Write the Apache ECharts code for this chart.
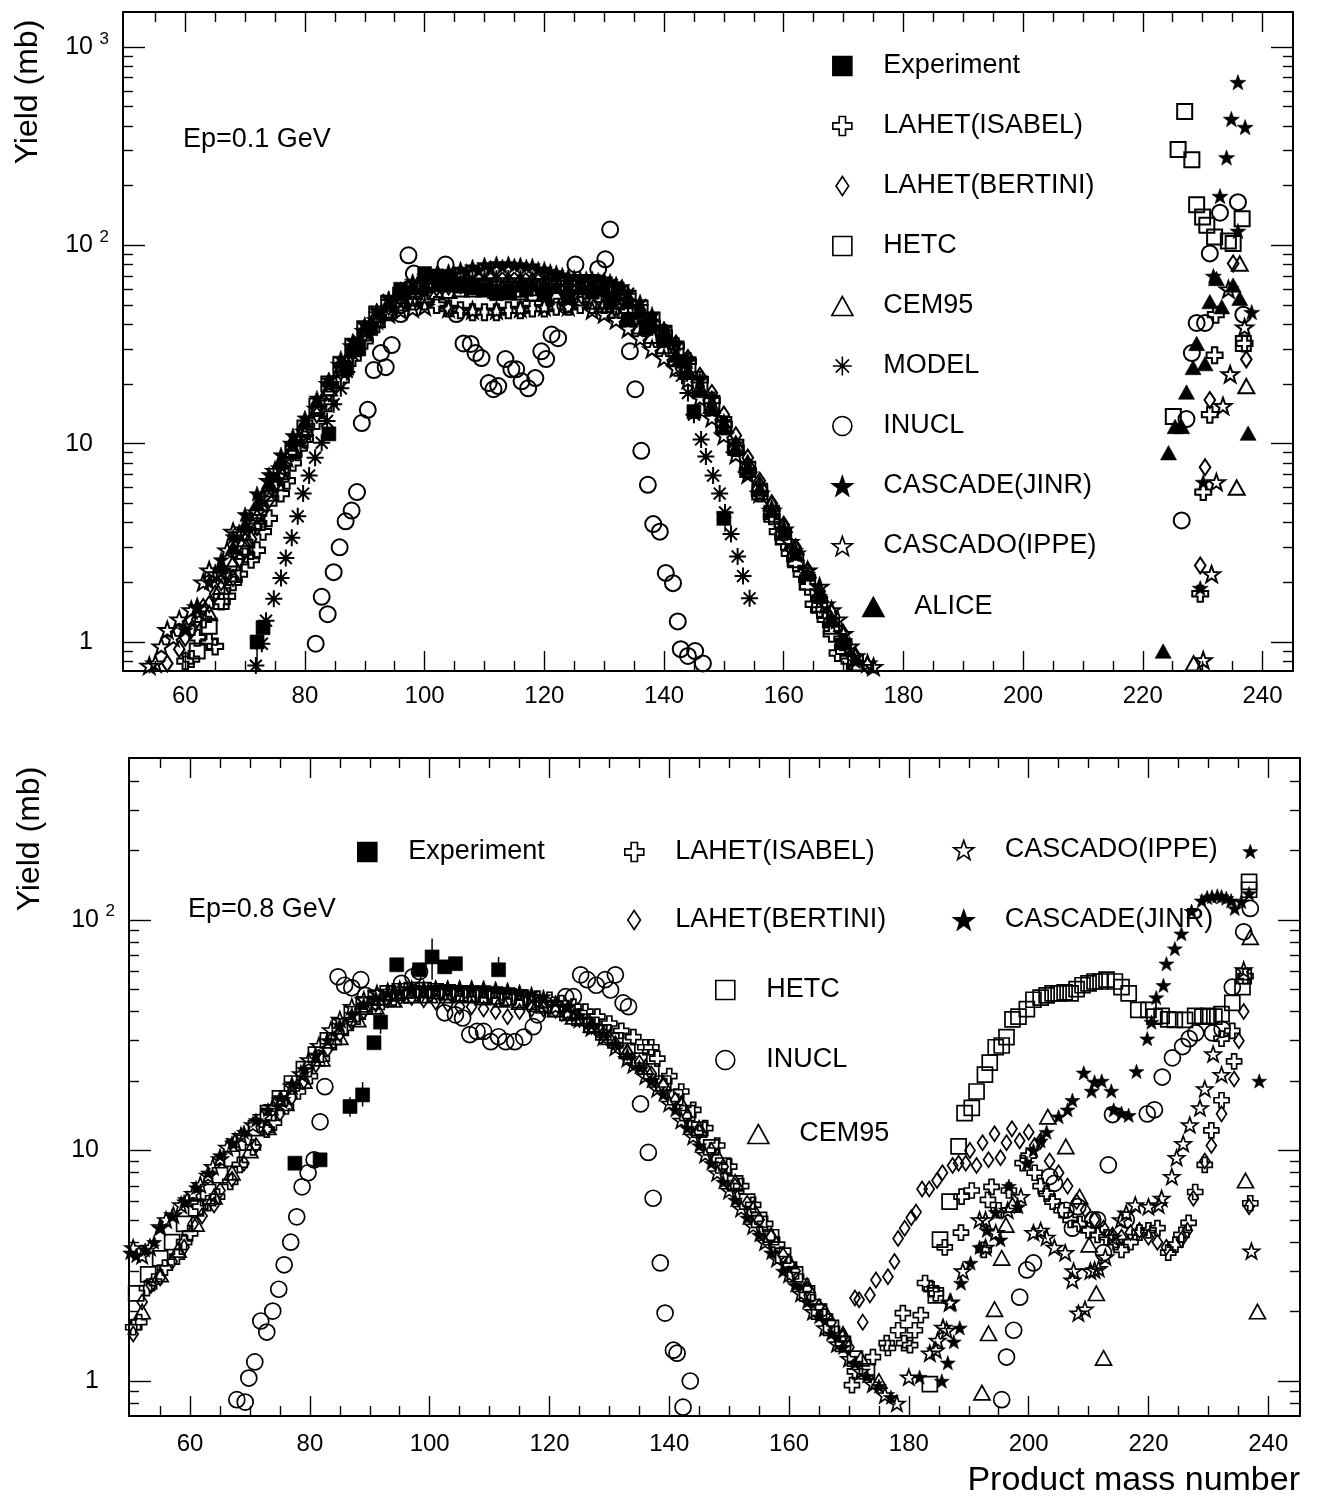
<!DOCTYPE html>
<html>
<head>
<meta charset="utf-8">
<title>Product yields, Ep=0.1 and 0.8 GeV</title>
<script src="https://cdn.jsdelivr.net/npm/echarts@6/dist/echarts.min.js"></script>
<style>
html, body { margin: 0; padding: 0; background: #fff; }
#chart { width: 1319px; height: 1499px; }
</style>
</head>
<body>
<div id="chart"></div>
<script>
// ---------- tick values ----------
const X_MAJOR = [60, 80, 100, 120, 140, 160, 180, 200, 220, 240];
const X_MINOR = [55, 65, 70, 75, 85, 90, 95, 105, 110, 115, 125, 130, 135, 145, 150, 155,
                 165, 170, 175, 185, 190, 195, 205, 210, 215, 225, 230, 235];
const Y_MAJOR_TOP = [1, 10, 100, 1000];
const Y_MINOR_TOP = [0.8, 0.9, 2, 3, 4, 5, 6, 7, 8, 9, 20, 30, 40, 50, 60, 70, 80, 90,
                     200, 300, 400, 500, 600, 700, 800, 900];
const Y_MAJOR_BOT = [1, 10, 100];
const Y_MINOR_BOT = [0.8, 0.9, 2, 3, 4, 5, 6, 7, 8, 9, 20, 30, 40, 50, 60, 70, 80, 90, 200, 300, 400];

// ---------- Ep = 0.1 GeV : [mass number, yield (mb)] ----------
const topExperiment = [[72,1.0],[73,1.18],[84,11.2],[87,24],[89,30],[91,38],[96,60],[100,72],[102,70],[104,66],[106,64],
  [108,62],[110,60],[112,57],[114,58],[117,60],[120,57],[124,55],[128,58],[131,52],[134,42],[137,38],[140,33],[143,26],
  [145,14.5],[150,4.2]];
// error bars: [mass number, low, high]
const topExpErr = [[72,0.714,1.0],[150.2,3.6,4.9]];
const topIsabel = [[60,0.8],[61,0.82],[62,1.05],[63,1.3],[64,1.0],[65,0.95],[66,1.6],[67,1.7],[68,2.0],[69,2.2],[70,2.7],
  [71,2.6],[72,2.9],[73,3.6],[74,4.2],[75,6.0],[76,5.6],[77,6.5],[78,8],[79,9.5],[80,10.5],[82,13],[84,16],[86,21],[88,27],
  [90,33],[92,40],[94,46],[96,50],[98,52],[100,52],[102,50],[104,48],[106,47],[108,46],[110,46],[112,46],[114,47],[116,47],
  [118,48],[120,48],[122,49],[124,49],[126,50],[128,50],[130,50],[132,49],[134,47],[136,44],[138,40],[140,36],[142,31],
  [144,26],[146,21],[148,16.5],[150,12.5],[152,9.5],[154,7.3],[156,5.6],[158,4.3],[159,3.6],[160,3.2],[161,2.8],[162,2.5],
  [163,2.2],[164,1.9],[165,1.55],[166,1.45],[167,1.3],[168,1.1],[169,0.88],[170,1.0],[171,0.8],
  [229.6,1.75],[230.1,5.7],[231.2,14],[232,27.9],[232.2,44.7],[237,32]];
const topBertini = [[57,0.78],[59,0.92],[60,1.05],[61,1.15],[62,1.3],[63,1.5],[64,1.55],[65,1.75],[66,2.0],[67,2.15],
  [68,2.1],[69,2.6],[70,2.9],[71,3.3],[72,3.8],[73,4.6],[74,5.2],[75,6.2],[76,7.0],[78,9],[80,11],[82,14],[84,18],[86,23],
  [88,29],[90,36],[92,43],[94,49],[96,54],[98,58],[100,60],[102,61],[104,62],[106,63],[108,64],[110,65],[112,66],[114,66],
  [116,66],[118,66],[120,65],[122,64],[124,63],[126,63],[128,62],[130,60],[132,56],[134,52],[136,47],[138,42],[140,37],
  [142,32],[144,27],[146,22],[148,18],[150,14],[152,11],[154,8.5],[156,6.5],[158,5],[160,3.9],[162,3.0],[164,2.3],[166,1.8],
  [168,1.4],[170,1.1],[172,0.85],[174,0.76],
  [229.6,2.43],[230.4,7.6],[231.2,16.6],[235.1,81],[237.3,26.6]];
const topHetc = [[62,0.9],[64,1.2],[66,1.6],[68,2.2],[70,3],[72,4],[74,5.3],[76,7],[78,9.2],[80,12],[82,15.5],[84,20],
  [86,25],[88,31],[90,38],[92,45],[94,51],[96,56],[98,60],[100,63],[102,64],[104,64],[106,63],[108,62],[110,61],[112,60],
  [114,60],[116,60],[118,61],[120,62],[122,63],[124,64],[126,65],[128,65],[130,63],[132,59],[134,54],[136,48],[138,42],
  [140,36],[142,30],[144,25],[146,20],[148,16],[150,12.5],[152,9.6],[154,7.4],[156,5.7],[158,4.4],[160,3.4],[162,2.6],
  [164,2.0],[166,1.55],[168,1.2],[170,0.95],[172,0.78],
  [225.1,13.7],[225.9,304],[227,472],[228.2,270],[229,160],[230,139],[230.7,126],[232,110],[234.3,105],[235.1,102],
  [236.6,136],[236.8,32]];
const topCem95 = [[64,1.4],[66,1.9],[68,2.5],[70,3.3],[72,4.3],[74,5.6],[76,7.2],[78,9.3],[80,12],[82,15],[84,19],[86,24],
  [88,30],[90,36],[92,42],[94,47],[96,51],[98,54],[100,56],[102,58],[104,59],[106,60],[108,60],[110,60],[112,59],[114,58],
  [116,58],[118,57],[120,57],[122,56],[124,55],[126,54],[128,52],[130,50],[132,47],[134,43],[136,39],[138,35],[140,31],
  [142,27],[144,23],[146,19],[148,15.5],[150,12.5],[152,10],[154,8],[156,6.3],[158,5],[160,3.9],[162,3.0],[164,2.3],
  [166,1.75],[168,1.3],[170,1.0],[172,0.78],
  [228.5,0.78],[235.7,6.0],[236.2,81],[237.3,19.5]];
const topModel = [[71.8,0.76],[72.8,0.98],[73.5,1.28],[74.8,1.65],[76,2.1],[76.8,2.65],[77.8,3.35],[78.8,4.3],[79.7,5.6],
  [80.7,6.9],[81.7,8.5],[82.8,10.1],[83.7,13],[84.8,15.8],[86,19],[87,23],[88,28],[89,33],[90,38],[92,46],[94,53],[96,58],
  [98,62],[100,64],[102,65],[104,66],[106,66],[108,67],[110,68],[112,68],[114,68],[116,68],[118,67],[120,67],[122,66],
  [124,66],[126,66],[128,66],[130,65],[132,62],[134,57],[136,50],[138,42],[140,34],[142,26],[143,22],[144,18],[145,14],
  [146.2,10.5],[147,8.6],[148.2,6.9],[149.3,5.6],[150.2,4.5],[151.2,3.5],[152.3,2.7],[153.2,2.15],[154.3,1.66]];
const topInucl = [[81.8,0.98],[82.8,1.69],[83.8,1.38],[84.8,2.25],[85.8,3.0],[86.8,4.06],[87.8,4.6],[88.7,5.7],[89.5,12.7],
  [90.5,14.8],[91.5,23.5],[92.7,28.6],[93.5,24.3],[94.5,31.4],[96,45],[97.3,89],[98.2,72],[100,62],[103.5,80],[105.3,45],
  [106.5,32],[107.7,31.8],[108.5,28.6],[109.5,27],[110.7,20.2],[111.5,18.8],[112.3,19.5],[113.5,26.7],[114.5,23.7],
  [115.3,23.7],[116.2,20.6],[117.3,19.0],[118.5,21.4],[119.5,29.2],[120.3,26.7],[121.2,35.5],[122.3,34],[123.5,50],
  [125.2,80],[127,55],[129,76],[130.2,85],[131,120],[132.5,52],[134.3,29.2],[135.2,18.8],[136.2,9.2],[137.3,6.2],
  [138.2,3.93],[139.3,3.6],[140.3,2.23],[141.5,1.98],[142.3,1.27],[142.8,0.92],[144,0.85],[145.2,0.9],[146.5,0.78],
  [226.5,4.1],[227.3,13.3],[228.2,28.6],[229,40.6],[230.4,40.6],[231.2,91],[232.9,146],[235.9,165],[236.8,44.7]];
const topJinr = [[60,1.15],[62,1.5],[64,2.0],[66,2.6],[68,3.4],[70,4.4],[72,5.6],[74,7],[76,8.8],[78,11],[80,13.5],[82,17],
  [84,21],[86,27],[88,33],[90,40],[92,47],[94,54],[96,60],[98,66],[100,70],[101,68],[102,72],[103,70],[104,74],[105,72],
  [106,76],[107,74],[108,78],[109,75],[110,80],[111,77],[112,81],[113,78],[114,81],[115,79],[116,80],[117,78],[118,79],
  [119,76],[120,76],[121,74],[122,73],[123,71],[124,70],[125,69],[126,68],[127,68],[128,68],[129,67],[130,67],[131,66],
  [132,64],[133,62],[134,58],[136,52],[138,45],[140,38],[142,32],[144,26],[146,21],[148,17],[150,13],[152,10],[154,8],
  [156,6.2],[158,4.8],[160,3.7],[162,2.9],[164,2.2],[166,1.7],[168,1.3],[170,1.0],[172,0.8],
  [229.6,1.87],[230.1,6.4],[231.8,70],[232.9,177],[234,277],[234.8,433],[235.9,664],[235.9,118],[237.1,394],[238.2,46]];
const topIppe = [[54,0.76],[55,0.78],[56,0.95],[57,1.15],[58,1.05],[59,1.3],[60,1.2],[61,1.45],[62,1.5],[63,2.0],[64,2.3],
  [65,2.2],[66,2.3],[67,2.9],[68,3.6],[69,3.5],[70,3.7],[71,4.0],[72,4.5],[73,5.3],[74,6.5],[75,7.3],[76,7.5],[77,8.5],
  [78,10],[79,10.5],[80,11.5],[82,15],[84,20],[86,25],[88,31],[90,37],[92,42],[94,45],[96,47],[98,48],[100,49],[104,48],
  [108,47],[112,47],[116,48],[120,49],[124,49],[128,47],[130,45],[132,42],[134,38],[136,34],[138,30],[140,27],[142,24],
  [144,21],[146,17],[148,13.5],[150,11],[152,8.8],[154,7],[156,5.6],[158,4.6],[160,3.7],[161,3.2],[162,2.8],[164,2.3],
  [166,1.9],[167,1.55],[168,1.45],[169,1.3],[170,1.1],[171,0.95],[172,0.85],[174,0.78],[175,0.75],
  [230.1,0.81],[231.5,2.2],[232.3,6.4],[233.4,15.5],[234.3,60],[234.6,22.4],[237,38.6]];
const topAlice = [[66,2.4],[68,3.0],[70,3.9],[72,5],[74,6.4],[76,8.2],[78,10.5],[80,13],[82,16.5],[84,21],[86,26],[88,32],
  [90,39],[92,46],[94,52],[96,57],[98,61],[100,63],[102,64],[104,64],[106,63],[108,62],[110,61],[112,61],[114,62],[116,63],
  [118,64],[120,63],[122,62],[124,61],[126,61],[128,61],[130,60],[132,57],[134,52],[136,46],[138,40],[140,34],[142,28],
  [144,23],[146,18.5],[148,15],[150,12],[152,9.5],[154,7.5],[156,5.9],[158,4.6],[160,3.6],[162,2.8],[164,2.2],[166,1.7],
  [168,1.3],[170,1.0],
  [223.4,0.9],[224.3,9.0],[225.4,12.2],[226.5,12.2],[227.3,18.2],[228.4,24.2],[229,32],[230.4,25.3],[231.2,52],[232.3,68],
  [233.2,49],[235.1,63],[236.2,54],[237.6,11.3]];

// ---------- Ep = 0.8 GeV : [mass number, yield (mb)] ----------
const botExperiment = [[77.5,8.8],[81.7,9.1],[86.7,15.5],[88.8,17.4],[90.7,29.3],[91.8,36],[94.5,63.8],[98.3,60.7],
  [100.4,69],[102.5,62.5],[104.3,64.5],[111.5,60.7]];
const botExpErr = [[100.4,55,83],[111.5,57,69],[88.8,15.5,19.8],[91.8,32,40],[86.7,14,17]];
const botIsabel = [[50.5,1.71],[51.5,1.8],[52.8,2.53],[54,2.7],[55.8,3.1],[57.8,3.46],[59,4.0],[60,4.37],[61.7,5.7],[63,5.9],
  [64.5,6.3],[66.7,7.3],[68.3,8.65],[70.5,10.3],[72.8,12.3],[74,13.2],[76,15.5],[78,18],[80,21],[82,25],[84,29.5],[86,34],
  [88,38],[90,42],[92,44],[94,46],[96,47],[98,48],[100,48],[102,48.5],[104,48],[106,48],[108,47.5],[110,47],[112,47],
  [114,46.5],[116,46],[118,45.5],[120,45],[122,43.5],[124,42],[126,40],[128,38],[130,35.5],[132,33],[134,31],[136,28],
  [137,28],[138,25],[140,21],[142,18],[144,15],[146,12.5],[148,10.5],[150,8.5],[152,7],[154,5.8],[156,4.8],[158,3.9],
  [160,3.2],[162,2.7],[164,2.2],[166,1.9],[168,1.6],[169,1.45],[170.5,0.96],[171,1.1],
  [174,1.27],[176.3,1.46],[176.5,1.39],[178.2,1.66],[179,1.97],[179.2,1.46],[180.2,1.43],[181,1.66],[182,1.93],[182.7,2.66],
  [183.8,2.5],[184.5,2.4],[186,3.8],[188.7,4.4],[188.8,6.3],[190.5,6.7],[192.5,3.7],[193.2,6.1],[193.8,6.95],[195,5.5],
  [196.7,6.7],[199,8.8],[200,9.5],[201,8],[202,7],[203,6.5],[204,6.0],[205.5,5.5],[207,5],[208.5,4.8],[210,4.5],
  [211.5,4.3],[213,4.2],[214.5,4.0],[215.5,3.7],[217,4.0],[218.5,4.4],[220,4.5],[221.5,4.6],[223.3,3.6],[224.5,3.9],
  [225.5,4.3],[226.7,4.85],[227.8,6.6],[229.4,8.65],[230.5,12.2],[232.2,16.5],[232.2,30.5],[234,33],[234.3,24.3],
  [236.2,57],[237,5.9]];
const botBertini = [[50.5,1.6],[52,2.2],[53.5,2.6],[55,2.8],[57,3.3],[59,3.8],[60.5,4.8],[62,5.2],[64,5.8],[65,6.7],[67,7.5],
  [69,8.8],[71,10.5],[73,12.5],[75,14.5],[77,17],[79,20],[81,23.5],[83,27.5],[85,32],[87,36],[89,40],[91,43],[93,45],
  [95,46],[97,46],[99,45],[101,44],[103,43],[105,42],[107,42],[109,41],[111,40],[113,38],[115,40],[117,41],[119,41],
  [121,40.5],[123,39],[125,37],[127,34.5],[129,32],[131,29],[133,26.5],[135,24],[137,21.5],[139,19],[141,16.5],[143,14],
  [145,12],[147,10],[149,8.5],[151,7],[153,5.9],[155,5.0],[157,4.2],[159,3.5],[161,3.0],[163,2.5],[165,2.1],[167,1.8],
  [169,1.55],[170,1.4],
  [171,2.29],[171.7,2.25],[172.3,1.8],[173.5,2.36],[174.5,2.74],[176.5,2.83],[177.6,3.3],[178.2,4.15],[179.3,4.6],
  [180.4,5.1],[181.2,5.4],[182.2,6.8],[183.4,6.8],[184.7,7.4],[185.6,8.0],[187.3,8.6],[188.3,8.8],[189.5,8.8],[190.2,10],
  [191.3,8.6],[192.3,10.8],[193.3,9.1],[194.3,11.8],[195.3,9.3],[196.3,10.8],[197.2,12.4],[198.5,11],[200,12],[201,10.5],
  [202,11],[203.5,9],[205,8],[206.5,7],[208,6],[209.5,5.5],[211,5],[212.5,4.6],[214,4.3],[215.5,4.2],[217,4.4],
  [218.5,4.5],[220,4.2],[221.5,4.0],[223,3.8],[225.5,4.1],[226.5,4.5],[227.5,6.2],[229.4,9.0],[230.5,10.5],[232.2,14.4],
  [234.3,20.4],[235.1,29.9],[235.9,40],[236.8,5.7]];
const botHetc = [[51,2.4],[53,2.9],[55,3.4],[57,4.0],[59,4.8],[61,5.6],[63,6.6],[65,7.8],[67,9.2],[69,10.8],[71,12.5],
  [73,14.5],[75,16.8],[77,19.5],[79,22.5],[81,26],[83,30],[85,34.5],[87,39],[89,43],[91,46],[93,48],[95,49],[97,49.5],
  [99,49.5],[101,49],[103,48.5],[105,48],[107,47.5],[109,47],[111,46.5],[113,46],[115,45],[117,44],[119,42.5],[121,41],
  [123,39.5],[125,37.5],[127,35],[129,32.5],[131,30],[133,27],[135,24.5],[137,22],[139,19.5],[141,17],[143,14.5],
  [145,12.3],[147,10.3],[149,8.6],[151,7.2],[153,6.0],[155,5.0],[157,4.2],[159,3.5],[161,2.9],[163,2.4],[165,2.0],
  [167,1.7],[169,1.45],[171,1.25],[173,1.1],
  [183.5,0.97],[184.5,2.35],[185.2,4.1],[186.8,6.0],[188.3,10.4],[189.3,14.5],[190.5,15.3],[191.3,18],[192.7,21.3],
  [193.5,24],[194.5,28],[195.5,28.5],[196.3,31],[197.3,37],[198.3,38],[199.7,41],[200.8,45],[202,46],[203,47],[204,48],
  [205,48],[206,48.5],[207,48],[208,50],[209,52],[210,53],[211,54],[212,54],[213,55],[214.4,54],[215.5,51],[216.7,48],
  [218.3,40.7],[220,40.7],[221,38],[222.2,38.3],[223.3,37],[224.4,36.8],[226.1,36.8],[227.8,38.3],[229,38],[230,38.3],
  [231,38],[232.2,39],[234,43.6],[235.7,51],[235.9,57],[236.8,135],[236.8,146]];
const botCem95 = [[52,2.0],[55,2.9],[58,3.7],[61,4.8],[64,6.3],[67,8],[70,10],[73,12.6],[76,16],[79,20],[82,25],[85,31],
  [88,37],[91,42],[94,45],[97,47],[100,47],[103,47],[106,47],[109,46],[112,45],[115,44],[118,43],[121,41],[124,38],
  [127,35],[130,31],[133,27],[136,23],[139,19.5],[142,16],[145,12.5],[148,9.5],[151,7.3],[154,5.6],[157,4.3],[160,3.3],
  [163,2.6],[166,2.0],[169,1.6],[172,1.25],[175,1.0],
  [192.2,0.89],[193.3,1.61],[194.3,2.05],[195.5,3.42],[196.2,4.75],[197.3,5.8],[203.2,14],[206.2,10.4],[208.5,6.3],
  [210.1,3.9],[211.3,2.4],[212.5,1.26],[236.2,7.4],[237,84],[238.2,2.0]];
const botInucl = [[67.8,0.83],[69.2,0.81],[69.8,1.03],[70.8,1.21],[71.8,1.82],[72.8,1.63],[73.8,2.01],[74.8,2.5],[75.7,3.19],
  [76.8,4.0],[77.8,5.15],[78.7,6.95],[79.7,8.0],[80.7,9.1],[81.7,13.3],[82.5,18.9],[84.7,56.6],[85.8,52],[87,50.7],
  [88.5,55],[89.3,47],[95.3,53],[97.2,56.6],[98.3,59.6],[102.5,39.5],[104.3,38.7],[105.5,37.5],[106.7,31.8],[107.9,32.8],
  [109,32.8],[110.2,29.6],[111.5,31.1],[112.7,29.6],[114.2,29.6],[115.7,31],[117.3,34.4],[118,38.7],[122.7,46.4],
  [124,46.4],[125.2,57.7],[126.3,55],[127.8,52],[129.3,55],[130.2,49.6],[131,57.7],[132.3,43.6],[133.2,42],[135.2,15.9],
  [136.5,9.8],[137.3,6.2],[138.5,3.25],[139.3,1.97],[140.7,1.36],[141.3,1.32],[142.3,0.77],[143.5,1.0],
  [195.5,0.83],[196.3,1.27],[197.5,1.66],[198.5,2.31],[199.7,3.03],[200.8,3.25],[203.5,7.7],[204.3,7.2],[206.2,5.5],
  [207.3,4.6],[208.2,5.7],[210.7,5.0],[211.5,5.0],[212.5,3.6],[213.3,8.65],[214,14.3],[216.3,5.0],[219.8,14.4],[221,15],
  [222.3,20.8],[224,25.2],[225.7,28.2],[226.8,30.5],[227.9,32.3],[230.7,32.3],[232.3,33.5],[234,51],[235.9,88.7],[237,112]];
const botJinr = [[50,3.6],[51,3.5],[52.5,3.7],[54,4.0],[55,4.6],[57,5.2],[59,6.0],[61,6.9],[63,8.0],[65,9.5],[67,10.8],
  [69,12],[71,13.5],[73,15],[75,17],[77,19.5],[79,22.5],[81,26],[83,30],[85,35],[87,39],[89,43],[91,46],[93,48],[95,49],
  [97,50],[99,50.5],[101,51],[103,51],[105,51],[107,51],[109,51],[111,50.5],[113,50],[115,49],[117,48],[119,46.5],[121,44],
  [123,41.5],[125,38.5],[127,35],[129,32],[131,29],[133,26],[135,23],[137,20],[139,17.5],[141,15],[143,12.5],[145,10.5],
  [147,8.8],[149,7.3],[151,6.1],[153,5.1],[155,4.3],[157,3.6],[159,3.0],[161,2.6],[163,2.2],[165,1.9],[167,1.6],[169,1.4],
  [171,1.2],[173,1.05],[175,0.95],[177,0.85],
  [181.8,1.04],[185.5,1.0],[186.5,1.2],[187.5,1.48],[188.5,1.7],[188.7,2.66],[190.3,3.25],[191.8,3.8],[193,4.5],[194.5,5.4],
  [195.3,4.1],[196.7,7.0],[198.3,5.7],[199.7,8.8],[200.8,10],[202,11],[203,12],[205,14],[206.5,15],[207.3,16.5],
  [209.2,21.7],[210.5,18.1],[211,19.8],[212.2,20],[213.8,18.1],[214.2,15],[215.5,14.5],[216.7,14.2],[218,22],[219.8,30.5],
  [220.5,36],[221.3,46],[222.5,52],[223,64.5],[224.4,75],[225.5,87],[227.2,109],[228.9,121],[229.8,125],[230.6,126],
  [231.5,127],[232.2,126],[233,124],[233.8,121],[234.4,112],[235.5,120],[236.8,130],[237,198],[238.5,20]];
const botIppe = [[50.5,3.78],[52,3.5],[53.3,3.8],[55,4.66],[56,5.0],[57.2,5.25],[58.5,5.8],[59.5,6.1],[60.5,6.5],[61.7,7.1],
  [63,7.8],[63.8,8.5],[65,9.2],[66.2,10.3],[67.5,11],[68.5,11.6],[70.5,12.9],[72,14],[73.8,15.5],[75.2,16.6],[77,19],
  [78.5,21.5],[79.8,24.7],[81.5,28.5],[83.5,33.3],[85,37],[87,42],[89,45],[91.2,48],[93,49],[95,50],[97,50],[99,50],
  [101,50],[103,50],[105,50],[107,50],[109,49.5],[111,49],[113,48.5],[115,47.5],[117,46],[119,44],[121,42],[123,39.5],
  [125,37],[127,34],[129,31],[131,28],[133,25],[134,23.5],[136,21],[138,18.5],[140,16],[142,13.5],[144,11.5],[146,9.6],
  [148,8],[150,6.7],[152,5.6],[154,4.7],[156,4.0],[158,3.4],[160,2.9],[162,2.4],[164,2.0],[166,1.7],[168,1.45],[170,1.25],
  [172,1.1],[174,0.97],[176,0.87],[178,0.8],
  [180,1.04],[183.5,1.32],[184.5,1.36],[184.8,1.5],[185.7,1.71],[186.3,1.66],[186.8,2.18],[187,2.2],[189,3.0],[191.8,5.0],
  [192.8,5.0],[192.8,3.8],[194.5,4.4],[196.5,5.5],[198.7,6.3],[200.8,4.4],[202,4.5],[203,4.2],[204.3,3.8],[206.1,3.6],
  [207.3,2.74],[207.5,3.0],[208.3,1.97],[209.4,2.05],[210.3,3.0],[211,3.03],[211.7,3.07],[212.8,3.45],[214,4.2],
  [215.4,5.0],[216.3,5.35],[217.8,5.8],[220,5.7],[221.7,5.8],[222.2,6.2],[223.9,7.7],[224.7,9.3],[225.8,10.7],[226.9,12.9],
  [228.6,15.3],[229.4,18.5],[230.8,26.2],[232.2,21.3],[235.9,60.7],[237.2,3.66]];

// ---------- chart ----------
const FONT = "'Liberation Sans', Arial, Helvetica, sans-serif";
const SYM = {
  square: 'path://M-1,-1H1V1H-1Z',
  triangle: 'path://M0,-0.9L1,0.9H-1Z',
  cross: 'path://M-1,-3H1V-1H3V1H1V3H-1V1H-3V-1H-1Z',
  diamond: 'path://M0,-3L2,0L0,3L-2,0Z',
  asterisk: 'path://M0,-1V1M-1,0H1M-0.7,-0.7L0.7,0.7M-0.7,0.7L0.7,-0.7',
  star: 'path://M0,-1L0.235,-0.324L0.951,-0.309L0.38,0.124L0.588,0.809L0,0.4L-0.588,0.809L-0.38,0.124L-0.951,-0.309L-0.235,-0.324Z'
};
// outline width of hollow markers per panel (the upper panel is printed heavier)
const STROKE = [2.0, 1.7];

function xAxis(gi, min, max, pos, ticks, len, main, showLabel, margin) {
  return {
    type: 'value', gridIndex: gi, position: pos, min: min, max: max,
    splitLine: { show: false },
    axisLine: { show: main, onZero: false, lineStyle: { color: '#000', width: 2 } },
    axisTick: { show: true, inside: true, length: len, customValues: ticks, lineStyle: { color: '#000', width: 1.4 } },
    axisLabel: { show: showLabel, customValues: ticks, margin: margin || 12, color: '#000', fontSize: 24, fontFamily: FONT },
    axisPointer: { show: false }
  };
}

function yLabel(v) {
  const e = Math.round(Math.log10(v));
  if (e === 0) return '{b|1}{s| }';
  if (e === 1) return '{b|10}{s| }';
  return '{b|10}{s|' + e + '}';
}

function yAxis(gi, min, max, pos, ticks, len, main, showLabel) {
  return {
    type: 'log', logBase: 10, gridIndex: gi, position: pos, min: min, max: max,
    splitLine: { show: false },
    axisLine: { show: main, onZero: false, lineStyle: { color: '#000', width: 2 } },
    axisTick: { show: true, inside: true, length: len, customValues: ticks, lineStyle: { color: '#000', width: 1.4 } },
    axisLabel: {
      show: showLabel, customValues: ticks, margin: 14, formatter: yLabel,
      rich: {
        b: { fontSize: 25, fontFamily: FONT, color: '#000' },
        s: { fontSize: 17, fontFamily: FONT, color: '#000', width: 16, align: 'right', padding: [0, 0, 16, 0] }
      }
    },
    axisPointer: { show: false }
  };
}

function sc(name, data, gi, symbol, size, filled) {
  return {
    type: 'scatter', name: name, data: data,
    xAxisIndex: gi * 4, yAxisIndex: gi * 4,
    symbol: symbol, symbolSize: size, symbolKeepAspect: true,
    itemStyle: {
      color: filled ? '#000' : 'rgba(255,255,255,0)', opacity: 1,
      borderColor: '#000', borderWidth: filled ? 0.6 : STROKE[gi]
    },
    emphasis: { disabled: true },
    silent: true
  };
}

// vertical error bars drawn through the axes' own scales
function errBars(data, gi) {
  return {
    type: 'custom', data: data, xAxisIndex: gi * 4, yAxisIndex: gi * 4, silent: true,
    encode: { x: 0, y: [1, 2] },
    renderItem: function (params, api) {
      const p1 = api.coord([api.value(0), api.value(1)]);
      const p2 = api.coord([api.value(0), api.value(2)]);
      return { type: 'line', shape: { x1: p1[0], y1: p1[1], x2: p2[0], y2: p2[1] },
               style: { stroke: '#000', lineWidth: 1.5 } };
    }
  };
}

// legend left edge is placed at the icon's drawn box, so "left" is icon centre minus half icon minus padding
function legend(names, left, top, gap) {
  return {
    data: names, orient: 'vertical', left: left, top: top, itemGap: gap || 0,
    itemWidth: 72, itemHeight: 19, selectedMode: false, symbolKeepAspect: true,
    itemStyle: { borderWidth: 1.6 },
    textStyle: { fontSize: 27, fontFamily: FONT, color: '#000', lineHeight: 30 }
  };
}

const chart = echarts.init(document.getElementById('chart'));

const option = {
  animation: false,
  backgroundColor: '#fff',
  grid: [
    { left: 123, top: 12, width: 1170, height: 659, containLabel: false },
    { left: 129, top: 758, width: 1171, height: 658, containLabel: false }
  ],
  xAxis: [
    xAxis(0, 49.6, 245.1, 'bottom', X_MAJOR, 20, true, true, 13),
    xAxis(0, 49.6, 245.1, 'bottom', X_MINOR, 10, false, false),
    xAxis(0, 49.6, 245.1, 'top', X_MAJOR, 20, true, false),
    xAxis(0, 49.6, 245.1, 'top', X_MINOR, 10, false, false),
    xAxis(1, 49.8, 245.3, 'bottom', X_MAJOR, 20, true, true, 16),
    xAxis(1, 49.8, 245.3, 'bottom', X_MINOR, 10, false, false),
    xAxis(1, 49.8, 245.3, 'top', X_MAJOR, 20, true, false),
    xAxis(1, 49.8, 245.3, 'top', X_MINOR, 10, false, false)
  ],
  yAxis: [
    yAxis(0, 0.714, 1500, 'left', Y_MAJOR_TOP, 22, true, true),
    yAxis(0, 0.714, 1500, 'left', Y_MINOR_TOP, 10, false, false),
    yAxis(0, 0.714, 1500, 'right', Y_MAJOR_TOP, 22, true, false),
    yAxis(0, 0.714, 1500, 'right', Y_MINOR_TOP, 10, false, false),
    yAxis(1, 0.705, 503, 'left', Y_MAJOR_BOT, 22, true, true),
    yAxis(1, 0.705, 503, 'left', Y_MINOR_BOT, 10, false, false),
    yAxis(1, 0.705, 503, 'right', Y_MAJOR_BOT, 22, true, false),
    yAxis(1, 0.705, 503, 'right', Y_MINOR_BOT, 10, false, false)
  ],
  legend: [
    legend(['Experiment', 'LAHET(ISABEL)', 'LAHET(BERTINI)', 'HETC', 'CEM95', 'MODEL', 'INUCL',
            'CASCADE(JINR)', 'CASCADO(IPPE)'], 826, 46, 30),
    legend(['ALICE'], 857, 587),
    legend(['Experiment'], 352, 832),
    legend(['LAHET(ISABEL)'], 619, 832),
    legend(['CASCADO(IPPE)'], 948, 830),
    legend(['LAHET(BERTINI)'], 622, 900),
    legend(['CASCADE(JINR)'], 948, 900),
    legend(['HETC'], 710, 970),
    legend(['INUCL'], 710, 1040),
    legend(['CEM95'], 742, 1114)
  ],
  graphic: [
    { type: 'text', x: 183, y: 140, style: { text: 'Ep=0.1 GeV', font: '27px ' + FONT, fill: '#000', verticalAlign: 'middle' } },
    { type: 'text', x: 188, y: 910, style: { text: 'Ep=0.8 GeV', font: '27px ' + FONT, fill: '#000', verticalAlign: 'middle' } },
    { type: 'text', x: 28, y: 92, rotation: Math.PI / 2,
      style: { text: 'Yield (mb)', font: '32px ' + FONT, fill: '#000', align: 'center', verticalAlign: 'middle' } },
    { type: 'text', x: 30, y: 839, rotation: Math.PI / 2,
      style: { text: 'Yield (mb)', font: '32px ' + FONT, fill: '#000', align: 'center', verticalAlign: 'middle' } },
    { type: 'text', x: 1300, y: 1481,
      style: { text: 'Product mass number', font: '34px ' + FONT, fill: '#000', align: 'right', verticalAlign: 'middle' } }
  ],
  series: [
    sc('Experiment', topExperiment, 0, SYM.square, 14, true),
    sc('LAHET(ISABEL)', topIsabel, 0, SYM.cross, 16, false),
    sc('LAHET(BERTINI)', topBertini, 0, SYM.diamond, 16, false),
    sc('HETC', topHetc, 0, SYM.square, 15, false),
    sc('CEM95', topCem95, 0, SYM.triangle, 16, false),
    sc('MODEL', topModel, 0, SYM.asterisk, 17, false),
    sc('INUCL', topInucl, 0, 'circle', 16, false),
    sc('CASCADE(JINR)', topJinr, 0, SYM.star, 16, true),
    sc('CASCADO(IPPE)', topIppe, 0, SYM.star, 17, false),
    sc('ALICE', topAlice, 0, SYM.triangle, 16, true),
    errBars(topExpErr, 0),
    sc('Experiment', botExperiment, 1, SYM.square, 14, true),
    sc('LAHET(ISABEL)', botIsabel, 1, SYM.cross, 15, false),
    sc('LAHET(BERTINI)', botBertini, 1, SYM.diamond, 15, false),
    sc('HETC', botHetc, 1, SYM.square, 15, false),
    sc('CEM95', botCem95, 1, SYM.triangle, 16, false),
    sc('INUCL', botInucl, 1, 'circle', 16, false),
    sc('CASCADE(JINR)', botJinr, 1, SYM.star, 15, true),
    sc('CASCADO(IPPE)', botIppe, 1, SYM.star, 16, false),
    errBars(botExpErr, 1)
  ]
};

chart.setOption(option);
</script>
</body>
</html>
